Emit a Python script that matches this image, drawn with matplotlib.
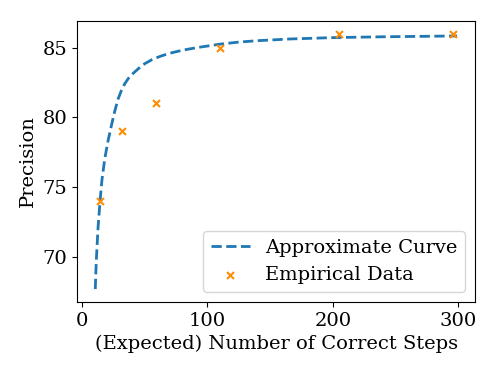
import matplotlib
matplotlib.use("Agg")
import matplotlib.pyplot as plt

plt.rcParams['font.family'] = 'DejaVu Serif'

curve_x = [10.6, 11.4, 12.8, 14.4, 15.9, 18.1, 20.5, 23.4, 26.0, 28.7, 31.5, 34.0,
           37.0, 40.7, 45.0, 50.0, 56.0, 63.0, 70.0, 77.0, 85.0, 95.0, 110.0, 125.0,
           140.0, 165.0, 200.0, 240.0, 270.0, 299.0]
curve_y = [67.7, 69.7, 72.1, 74.0, 75.5, 77.0, 78.2, 79.4, 80.4, 81.3, 81.95, 82.4,
           82.8, 83.15, 83.5, 83.85, 84.15, 84.4, 84.6, 84.75, 84.9, 85.05, 85.25, 85.4,
           85.5, 85.62, 85.72, 85.78, 85.81, 85.84]

emp_x = [14, 32, 59, 110, 205, 296]
emp_y = [74, 79, 81, 85, 86, 86]

fig = plt.figure(figsize=(4.98, 3.74), dpi=100)
ax = fig.add_axes([0.155, 0.193, 0.799, 0.751])
ax.plot(curve_x, curve_y, linestyle='--', color='#1f77b4', linewidth=2,
        label='Approximate Curve')
ax.scatter(emp_x, emp_y, marker='x', color='darkorange', s=25, linewidths=1.5,
           label='Empirical Data', zorder=3)
ax.set_xticks([0, 100, 200, 300])
ax.set_yticks([70, 75, 80, 85])
ax.tick_params(labelsize=14)
ax.set_xlabel('(Expected) Number of Correct Steps', fontsize=14)
ax.set_ylabel('Precision', fontsize=14)
ax.legend(loc='lower right', fontsize=14)
fig.savefig('out.png', dpi=100)
